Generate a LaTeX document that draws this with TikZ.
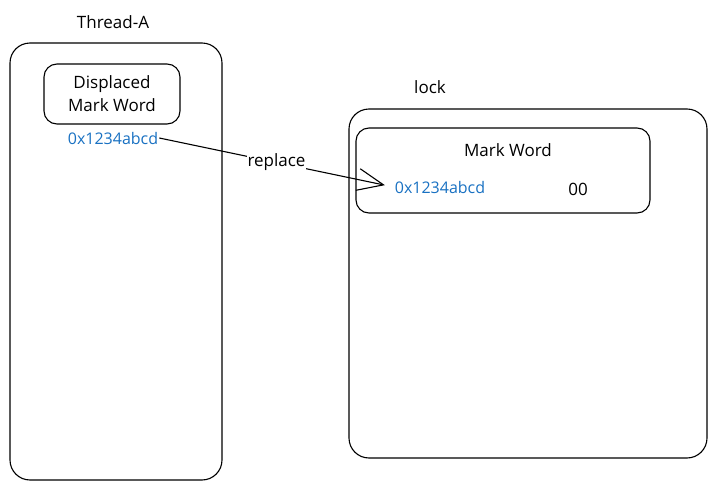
\documentclass[tikz,border=0pt]{standalone}
\usepackage{fontspec}
\setmainfont{Open Sans}
\usetikzlibrary{arrows.meta,positioning}
\definecolor{hashblue}{HTML}{1971C2}

\begin{document}
\begin{tikzpicture}[x=1pt,y=-1pt,
  box/.style={draw,line width=1.1pt,rounded corners=20pt,inner sep=0pt},
  word/.style={draw,line width=1.1pt,rounded corners=13pt,align=center,inner sep=0pt,font=\fontsize{17}{23}\selectfont},
  label/.style={font=\fontsize{17}{20}\selectfont},
  hash/.style={text=hashblue,font=\fontsize{16}{18}\selectfont,inner sep=1pt}]

  \useasboundingbox (0,0) rectangle (716,490);

  % thread side
  \node(threadA)[box,minimum width=212pt,minimum height=437pt] at (116,261.5) {};
  \node(threadlbl)[label] at (113,22) {Thread-A};
  \node(displaced)[word,minimum width=136pt,minimum height=60pt] at (112,94) {Displaced\\Mark Word};
  \node(hashA)[hash] at (113,138) {0x1234abcd};

  % lock side
  \node(lock)[box,minimum width=358pt,minimum height=349pt] at (528,283.5) {};
  \node(locklbl)[label] at (430,87) {lock};
  \node(markword)[word,minimum width=294pt,minimum height=85pt] at (503,170.5) {};
  \node(mwlbl)[label] at (508,150) {Mark Word};
  \node(hashB)[hash] at (440,187) {0x1234abcd};
  \node(bits)[label] at (578,189) {00};

  \draw[line width=1.1pt,shorten >=9pt,-{Straight Barb[length=26pt,width=22pt,line width=1.1pt]}]
    (hashA.east) -- node[fill=white,label,inner sep=1pt]{replace} (hashB.west);
\end{tikzpicture}
\end{document}
